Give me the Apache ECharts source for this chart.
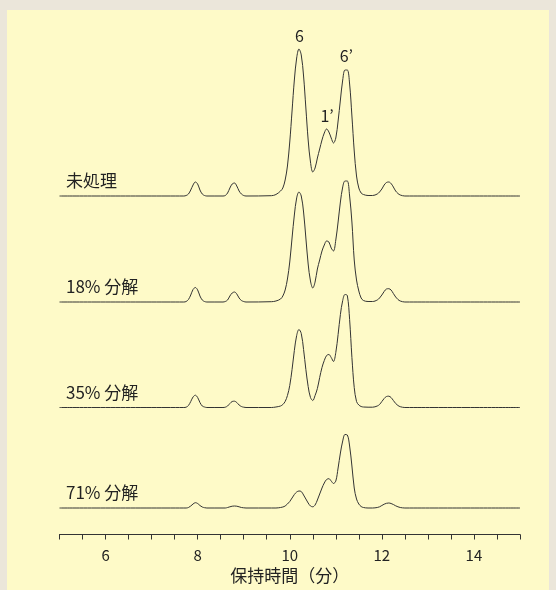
<!DOCTYPE html>
<html>
<head>
<meta charset="utf-8">
<script src="https://cdn.jsdelivr.net/npm/echarts@6/dist/echarts.min.js"></script>
<style>
  html, body { margin: 0; padding: 0; background: #ebe6da; }
  #panel { position: absolute; left: 7px; top: 10px; width: 542px; height: 580px; background: #fefac8; }
  #main { position: absolute; left: 0; top: 0; width: 556px; height: 590px; }
</style>
</head>
<body>
<div id="panel"></div>
<div id="main"></div>
<script>
// 保持時間（分）
var times = [5.0, 7.7, 7.75, 7.8, 7.85, 7.9, 7.95, 8.0, 8.05, 8.1, 8.15, 8.2,
  8.55, 8.6, 8.65, 8.7, 8.75, 8.8, 8.85, 8.9, 8.95, 9.0, 9.05,
  9.6, 9.7, 9.8, 9.85, 9.9, 9.95, 10.0, 10.05, 10.1, 10.15, 10.2, 10.25, 10.3, 10.35, 10.4, 10.45, 10.5,
  10.55, 10.6, 10.65, 10.7, 10.75, 10.8, 10.85, 10.9, 10.95,
  11.0, 11.05, 11.1, 11.15, 11.2, 11.25, 11.3, 11.35, 11.4, 11.45, 11.5, 11.55, 11.6,
  11.7, 11.8, 11.9, 11.95, 12.0, 12.05, 12.1, 12.15, 12.2, 12.25, 12.3, 12.35, 12.4, 12.5, 12.6, 15.0];

// 検出器応答（各クロマトグラム）
var untreated = [0, 0, 0.5, 2, 6, 11, 14, 12, 6, 2, 0.5, 0,
  0, 0.5, 3, 8, 12, 13, 10, 5, 2, 0.5, 0,
  0.3, 1.5, 5, 8, 16, 30, 54, 85, 116, 138, 147, 141, 120, 88, 56, 34, 24,
  28, 38, 47, 56, 63, 67, 64, 58, 53,
  58, 75, 96, 116, 126, 126, 112, 80, 45, 20, 8, 3, 1.5,
  0.5, 0.5, 2, 4, 7, 11, 13.5, 14, 12.5, 9, 5, 2.5, 1, 0, 0, 0];

var dec18 = [0, 0, 0.5, 2.5, 7, 12.5, 14.5, 12, 6, 2, 0.5, 0,
  0, 0.5, 2, 6, 9, 10, 8, 4, 1.5, 0.5, 0,
  0.3, 1, 3, 6, 12, 23, 40, 64, 87, 104, 110, 106, 90, 64, 38, 21, 14,
  20, 33, 42, 51, 57, 61, 60, 54, 51,
  62, 80, 100, 115, 121, 121, 106, 80, 42, 22, 11, 4, 1.5,
  0.5, 0.5, 2, 4, 7, 10.5, 13, 13.3, 12, 8.5, 5, 2.5, 1, 0, 0, 0];

var dec35 = [0, 0, 0.3, 2, 6, 10.5, 12.3, 10, 5, 1.5, 0.5, 0,
  0, 0.3, 1.5, 4, 6, 6.3, 5, 2.5, 1, 0.3, 0,
  0, 0.5, 1.5, 3, 6, 12, 22, 38, 57, 72, 78, 74, 58, 38, 21, 10, 7,
  12, 19, 30, 40, 47, 52, 53, 50, 46,
  55, 73, 93, 107, 113, 112, 88, 50, 20, 6, 2.5, 1, 0.5,
  0.3, 0.3, 1.5, 3, 6, 9, 11, 11.3, 10, 7, 4, 2, 0.8, 0, 0, 0];

var dec71 = [0, 0, 0, 0.5, 2, 4, 5.3, 4.5, 2.5, 1, 0.3, 0,
  0, 0, 0.5, 1.2, 1.8, 2, 1.8, 1.2, 0.5, 0.2, 0,
  0, 0, 0.5, 1, 2, 4, 6.5, 10, 13.5, 16, 17, 16.5, 13, 9, 5, 2, 1.2,
  3, 8, 14, 20, 25, 28.5, 29.3, 27, 24.5,
  27, 40, 55, 67, 73.5, 73, 62, 42, 20, 9, 4, 1.5, 0.5,
  0, 0, 0.5, 1.2, 2.5, 3.8, 4.7, 5, 4.5, 3.5, 2.2, 1.2, 0.5, 0, 0, 0];

var traces = [untreated, dec18, dec35, dec71];
var traceNames = ['未処理', '18% 分解', '35% 分解', '71% 分解'];

// ピーク名（未処理）
var peakNames = ['6', '1’', '6’'];
var peakTimes = [10.21, 10.81, 11.23];
var peakHeights = [147, 67, 127];

var xTicks = [6, 8, 10, 12, 14];

var baselines = [196, 302, 407.5, 508];
var axisY = 534.5;
var gridH = 170;
var font = '"Noto Sans CJK JP", "Noto Sans", sans-serif';
var ink = '#333';

var myChart = echarts.init(document.getElementById('main'));

var grids = [], xAxes = [], yAxes = [], series = [], graphics = [];
for (var i = 0; i < traces.length; i++) {
  grids.push({ left: 59.5, right: 36, top: baselines[i] - gridH, height: gridH });
  xAxes.push({ gridIndex: i, type: 'value', min: 5, max: 15, show: false, splitLine: { show: false } });
  yAxes.push({ gridIndex: i, type: 'value', min: 0, max: gridH, show: false, splitLine: { show: false } });

  var s = {
    type: 'line', xAxisIndex: i, yAxisIndex: i,
    data: times.map(function (t, k) { return [t, traces[i][k]]; }),
    showSymbol: false, smooth: 0.35, clip: false, silent: true,
    lineStyle: { color: ink, width: 1 }
  };
  if (i === 0) {
    s.markPoint = {
      symbol: 'circle', symbolSize: 0, silent: true,
      itemStyle: { color: 'transparent' },
      label: { show: true, position: 'top', distance: 5, color: '#222', fontSize: 16, fontFamily: font, formatter: '{b}' },
      data: peakNames.map(function (n, k) { return { name: n, coord: [peakTimes[k], peakHeights[k]] }; })
    };
  }
  series.push(s);

  graphics.push({
    type: 'text', x: 66, y: baselines[i] - 15,
    style: { text: traceNames[i], font: '17px ' + font, fill: '#222', verticalAlign: 'middle' }
  });
}

// 時間軸（単独のグリッド）
grids.push({ left: 59.5, right: 36, top: axisY - 20, height: 20 });
xAxes.push({
  gridIndex: 4, type: 'value', min: 5, max: 15, interval: 0.5,
  splitLine: { show: false },
  axisLine: { lineStyle: { color: ink, width: 1 } },
  axisTick: { length: 5, lineStyle: { color: ink } },
  axisLabel: {
    margin: 13, color: '#222', fontSize: 15, fontFamily: font,
    formatter: function (v) { return xTicks.indexOf(v) >= 0 ? String(v) : ''; }
  },
  name: '保持時間（分）',
  nameLocation: 'middle', nameGap: 33,
  nameTextStyle: { color: '#222', fontSize: 17, fontFamily: font }
});
yAxes.push({ gridIndex: 4, type: 'value', min: 0, max: 1, show: false, splitLine: { show: false } });

var option = {
  animation: false,
  grid: grids,
  xAxis: xAxes,
  yAxis: yAxes,
  series: series,
  graphic: graphics
};
myChart.setOption(option);
</script>
</body>
</html>
